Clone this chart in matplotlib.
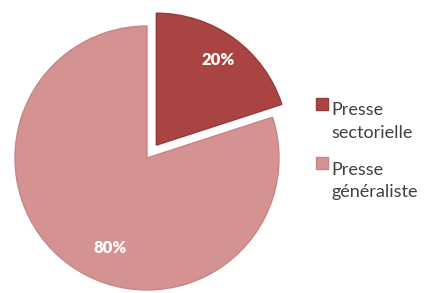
import matplotlib.pyplot as plt

labels = ['Presse\nsectorielle', 'Presse\ngénéraliste']
values = [20, 80]
colors = ['#AA4443', '#D49392']
edges = ['#973B3A', '#C58685']
explode = [0.12, 0]

fig = plt.figure(figsize=(4.3, 2.93), dpi=100)
ax = fig.add_axes([15 / 430, 3 / 293, 264 / 430, 264 / 293])

wedges, texts, autotexts = ax.pie(values, explode=explode, colors=colors,
                                  startangle=90, counterclock=False,
                                  autopct='%d%%', pctdistance=0.8,
                                  wedgeprops={'linewidth': 1.0},
                                  textprops={'color': 'white', 'fontsize': 12,
                                             'fontweight': 'heavy', 'family': 'Lato'})
for w, e in zip(wedges, edges):
    w.set_edgecolor(e)
    w.set_clip_on(False)
autotexts[1].set_position((-0.28, -0.68))

ax.set_xlim(-1, 1)
ax.set_ylim(-1, 1)
ax.set_aspect('equal')
ax.axis('off')

leg = fig.legend(wedges, labels, loc='upper left', bbox_to_anchor=(300 / 430, 1 - 86 / 293),
                 frameon=False, handlelength=0.65, handleheight=0.65,
                 handletextpad=0.2, labelspacing=1.15, prop={'family': 'Lato', 'size': 13})
for t in leg.get_texts():
    t.set_color('#404040')
    t.set_linespacing(1.5)
# put the colour square next to the first line of each label
for h in leg.legend_handles:
    h.set_y(h.get_y() + 13)

plt.savefig('out.png', dpi=100)
